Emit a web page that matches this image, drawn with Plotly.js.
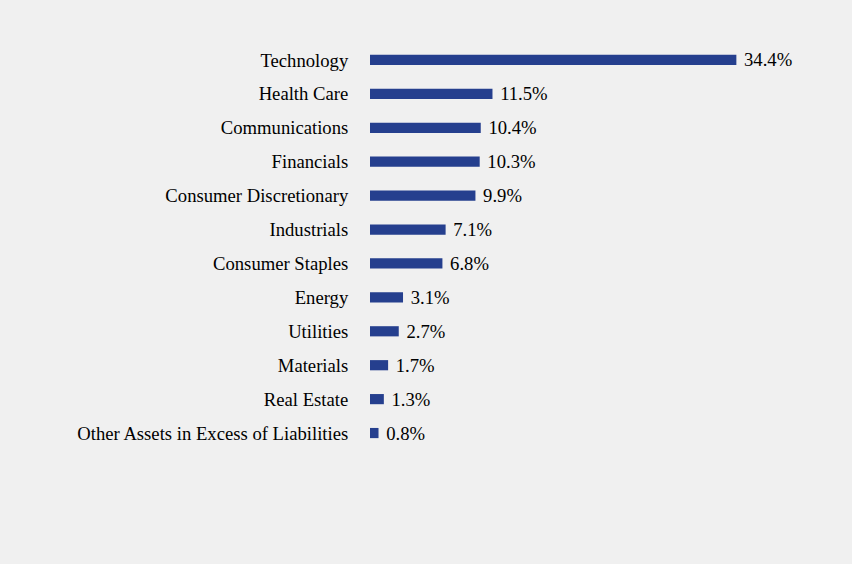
<!DOCTYPE html>
<html>
<head>
<meta charset="utf-8">
<script src="https://cdn.plot.ly/plotly-3.0.1.min.js"></script>
<style>html,body{margin:0;padding:0;background:#f0f0f0;}</style>
</head>
<body>
<div id="chart" style="width:852px;height:564px;"></div>
<script>
const sectors = ["Technology","Health Care","Communications","Financials","Consumer Discretionary","Industrials","Consumer Staples","Energy","Utilities","Materials","Real Estate","Other Assets in Excess of Liabilities"];
const weights = [34.4,11.5,10.4,10.3,9.9,7.1,6.8,3.1,2.7,1.7,1.3,0.8];

const FONT = "Liberation Serif, Times New Roman, serif";
const trace = {
  type: "bar",
  orientation: "h",
  y: sectors,
  x: weights,
  width: 0.3,
  marker: {color: "#253f8e"},
  text: weights.map(v => " " + v.toFixed(1) + "%"),
  textposition: "outside",
  constraintext: "none",
  cliponaxis: false,
  textfont: {family: FONT, size: 18.67, color: "#000"},
  hoverinfo: "none"
};

const layout = {
  width: 852, height: 564,
  paper_bgcolor: "#f0f0f0", plot_bgcolor: "#f0f0f0",
  margin: {l: 370, r: 56, t: 43, b: 114},
  showlegend: false,
  font: {family: FONT, size: 18.67, color: "#000"},
  xaxis: {range: [0, 40], visible: false, showgrid: false, zeroline: false, fixedrange: true},
  yaxis: {autorange: "reversed", showgrid: false, zeroline: false, showline: false,
          ticks: "outside", ticklen: 17, tickcolor: "rgba(0,0,0,0)",
          tickfont: {family: FONT, size: 18.67, color: "#000"}},
};

Plotly.newPlot("chart", [trace], layout, {displayModeBar: false, staticPlot: true});
</script>
</body>
</html>
